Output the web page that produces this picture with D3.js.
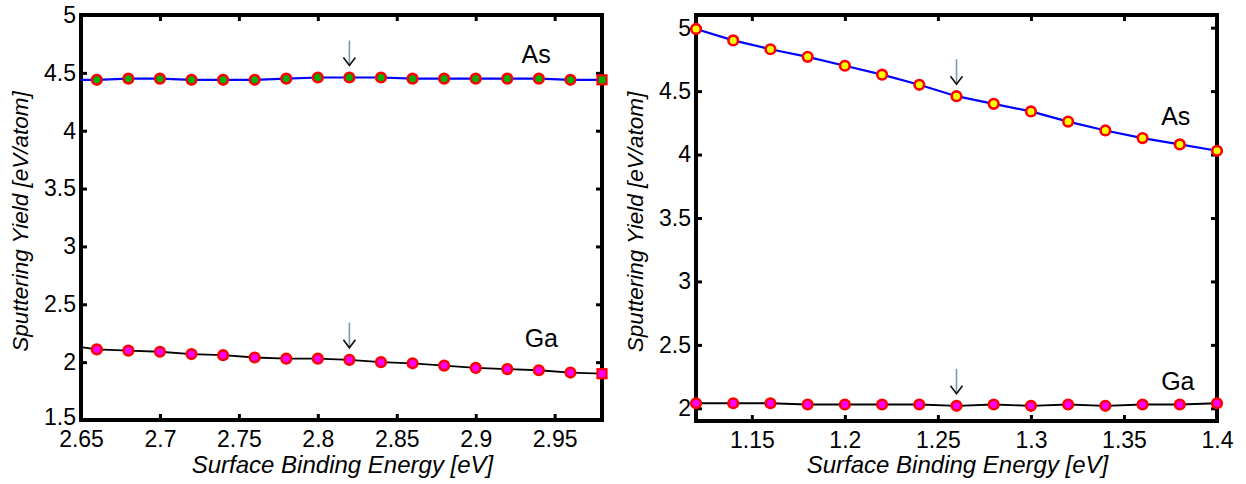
<!DOCTYPE html>
<html>
<head>
<meta charset="utf-8">
<script src="https://cdn.jsdelivr.net/npm/d3@7"></script>
<style>
  html, body { margin: 0; padding: 0; background: #fff; }
  svg { display: block; }
  text { font-family: "Liberation Sans", Arial, sans-serif; fill: #000; }
</style>
</head>
<body>
<svg id="chart" width="1246" height="484"></svg>
<script>
// ---------- data ----------
const leftX  = [2.66, 2.68, 2.70, 2.72, 2.74, 2.76, 2.78, 2.80, 2.82, 2.84, 2.86, 2.88, 2.90, 2.92, 2.94, 2.96, 2.98];
const leftAs = [4.44, 4.45, 4.45, 4.44, 4.44, 4.44, 4.45, 4.46, 4.46, 4.46, 4.45, 4.45, 4.45, 4.45, 4.45, 4.44, 4.44];
const leftGa = [2.11, 2.10, 2.09, 2.07, 2.06, 2.04, 2.03, 2.03, 2.02, 2.00, 1.99, 1.97, 1.95, 1.94, 1.93, 1.91, 1.90];
const leftFitStartX = 2.65, leftFitStartAs = 4.44, leftFitStartGa = 2.13;

const rightX  = [1.12, 1.14, 1.16, 1.18, 1.20, 1.22, 1.24, 1.26, 1.28, 1.30, 1.32, 1.34, 1.36, 1.38, 1.40];
const rightAs = [4.99, 4.90, 4.83, 4.77, 4.70, 4.63, 4.55, 4.46, 4.40, 4.34, 4.26, 4.19, 4.13, 4.08, 4.03];
const rightGa = [2.04, 2.04, 2.04, 2.03, 2.03, 2.03, 2.03, 2.02, 2.03, 2.02, 2.03, 2.02, 2.03, 2.03, 2.04];

const leftXTicks  = [2.65, 2.70, 2.75, 2.80, 2.85, 2.90, 2.95];
const leftXLabels = ["2.65", "2.7", "2.75", "2.8", "2.85", "2.9", "2.95"];
const leftYTicks  = [1.5, 2, 2.5, 3, 3.5, 4, 4.5, 5];
const leftYLabels = ["1.5", "2", "2.5", "3", "3.5", "4", "4.5", "5"];
const rightXTicks  = [1.15, 1.20, 1.25, 1.30, 1.35, 1.40];
const rightXLabels = ["1.15", "1.2", "1.25", "1.3", "1.35", "1.4"];
const rightYTicks  = [2, 2.5, 3, 3.5, 4, 4.5, 5];
const rightYLabels = ["2", "2.5", "3", "3.5", "4", "4.5", "5"];

const xTitle = "Surface Binding Energy [eV]";
const yTitle = "Sputtering Yield [eV/atom]";

const leftArrowX = 2.82, rightArrowX = 1.26;
const leftLabels  = [{t: "As", x: 2.929, y: 4.585}, {t: "Ga", x: 2.931, y: 2.13}];
const rightLabels = [{t: "As", x: 1.370, y: 4.233}, {t: "Ga", x: 1.370, y: 2.145}];

// ---------- drawing ----------
const svg = d3.select("#chart");

function panel(cfg) {
  const g = svg.append("g");
  const x = d3.scaleLinear().domain(cfg.xDomain).range([cfg.left, cfg.right]);
  const y = d3.scaleLinear().domain(cfg.yDomain).range([cfg.bottom, cfg.top]);
  const w = cfg.right - cfg.left, h = cfg.bottom - cfg.top;

  const fs = "23px";
  const ax = g.append("g").attr("transform", `translate(0,${cfg.bottom})`)
    .call(d3.axisBottom(x).tickValues(cfg.xTicks).tickFormat((d, i) => cfg.xLabels[i])
      .tickSizeInner(-6).tickSizeOuter(0).tickPadding(11));
  const at = g.append("g").attr("transform", `translate(0,${cfg.top})`)
    .call(d3.axisTop(x).tickValues(cfg.xTicks).tickFormat("").tickSizeInner(-6).tickSizeOuter(0));
  const ay = g.append("g").attr("transform", `translate(${cfg.left},0)`)
    .call(d3.axisLeft(y).tickValues(cfg.yTicks).tickFormat((d, i) => cfg.yLabels[i])
      .tickSizeInner(-6).tickSizeOuter(0).tickPadding(5));
  const ar = g.append("g").attr("transform", `translate(${cfg.right},0)`)
    .call(d3.axisRight(y).tickValues(cfg.yTicks).tickFormat("").tickSizeInner(-6).tickSizeOuter(0));
  [ax, at, ay, ar].forEach(a => {
    a.select(".domain").remove();
    a.selectAll(".tick line").attr("stroke", "#000").attr("stroke-width", 3);
    a.selectAll(".tick text").attr("font-size", fs).attr("font-family", "Liberation Sans, Arial, sans-serif").attr("fill", "#000");
  });
  // bottom-left y label sits slightly higher, as in the reference
  ay.selectAll(".tick text").filter(d => d === cfg.yDomain[0]).attr("dy", "0.2em");

  // box
  g.append("rect").attr("x", cfg.left).attr("y", cfg.top).attr("width", w).attr("height", h)
    .attr("fill", "none").attr("stroke", "#000").attr("stroke-width", 4);

  // titles
  g.append("text").attr("x", (cfg.left + cfg.right) / 2 + 1).attr("y", 473)
    .attr("text-anchor", "middle").attr("font-size", "24px").attr("font-style", "italic").text(xTitle);
  g.append("text").attr("transform", `translate(${cfg.yTitleX},${(cfg.top + cfg.bottom) / 2 + 4}) rotate(-90)`)
    .attr("text-anchor", "middle").attr("font-size", "22.5px").attr("font-style", "italic").text(yTitle);

  // lines
  const line = d3.line().x(d => x(d[0])).y(d => y(d[1]));
  cfg.series.forEach(s => {
    g.append("path").datum(s.line).attr("d", line).attr("fill", "none")
      .attr("stroke", s.lineColor).attr("stroke-width", s.lineWidth);
  });

  // markers
  cfg.series.forEach(s => {
    const n = s.pts.length;
    s.pts.forEach((p, i) => {
      if (cfg.lastSquare && i === n - 1) {
        g.append("rect").attr("x", x(p[0]) - 4.5).attr("y", y(p[1]) - 4.5).attr("width", 9).attr("height", 9)
          .attr("fill", s.fill).attr("stroke", "#ff0000").attr("stroke-width", 2.2);
      } else {
        g.append("circle").attr("cx", x(p[0])).attr("cy", y(p[1])).attr("r", 4.8)
          .attr("fill", s.fill).attr("stroke", "#ff0000").attr("stroke-width", 2.6);
      }
    });
  });

  // arrows
  cfg.arrows.forEach(a => {
    const ax0 = x(a.x), tipY = y(a.y) - 12, topY = tipY - 25;
    g.append("line").attr("x1", ax0).attr("x2", ax0).attr("y1", topY).attr("y2", tipY)
      .attr("stroke", "#7d97b5").attr("stroke-width", 1.6);
    g.append("path").attr("d", `M${ax0 - 6},${tipY - 8} L${ax0},${tipY} L${ax0 + 6},${tipY - 8}`)
      .attr("fill", "none").attr("stroke", "#111").attr("stroke-width", 1.6);
  });

  // series labels
  cfg.labels.forEach(l => {
    g.append("text").attr("x", x(l.x)).attr("y", y(l.y)).attr("font-size", "25px").text(l.t);
  });
}

panel({
  left: 81, right: 602, top: 15, bottom: 420,
  xDomain: [2.65, 2.98], yDomain: [1.5, 5],
  xTicks: leftXTicks, xLabels: leftXLabels, yTicks: leftYTicks, yLabels: leftYLabels,
  yTitleX: 28, lastSquare: true,
  series: [
    { pts: leftX.map((v, i) => [v, leftAs[i]]), line: [[leftFitStartX, leftFitStartAs]].concat(leftX.map((v, i) => [v, leftAs[i]])),
      lineColor: "#0000ff", lineWidth: 2.2, fill: "#00b000" },
    { pts: leftX.map((v, i) => [v, leftGa[i]]), line: [[leftFitStartX, leftFitStartGa]].concat(leftX.map((v, i) => [v, leftGa[i]])),
      lineColor: "#000000", lineWidth: 1.8, fill: "#ff00ff" }
  ],
  arrows: [{ x: leftArrowX, y: leftAs[leftX.indexOf(leftArrowX)] }, { x: leftArrowX, y: leftGa[leftX.indexOf(leftArrowX)] }],
  labels: leftLabels
});

panel({
  left: 696, right: 1217, top: 15, bottom: 421,
  xDomain: [1.12, 1.40], yDomain: [1.9, 5.1],
  xTicks: rightXTicks, xLabels: rightXLabels, yTicks: rightYTicks, yLabels: rightYLabels,
  yTitleX: 643, lastSquare: false,
  series: [
    { pts: rightX.map((v, i) => [v, rightAs[i]]), line: rightX.map((v, i) => [v, rightAs[i]]),
      lineColor: "#0000ff", lineWidth: 2.2, fill: "#ffff00" },
    { pts: rightX.map((v, i) => [v, rightGa[i]]), line: rightX.map((v, i) => [v, rightGa[i]]),
      lineColor: "#000000", lineWidth: 1.8, fill: "#ff00ff" }
  ],
  arrows: [{ x: rightArrowX, y: rightAs[rightX.indexOf(rightArrowX)] }, { x: rightArrowX, y: rightGa[rightX.indexOf(rightArrowX)] }],
  labels: rightLabels
});
</script>
</body>
</html>
